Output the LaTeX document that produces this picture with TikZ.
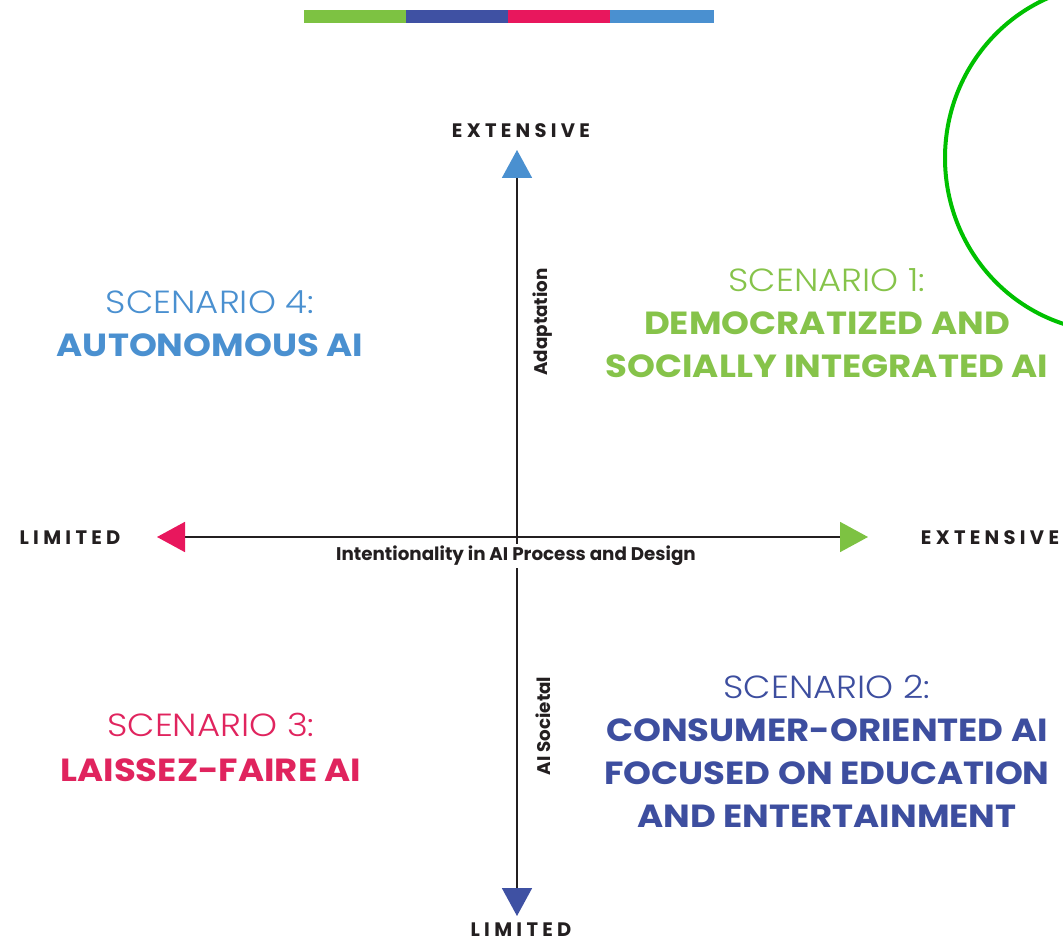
\documentclass[tikz,border=0pt]{standalone}
\usepackage{fontspec}
\setmainfont{Poppins}
\newfontfamily\plight{Poppins Light}[FakeStretch=1.11]
\newfontfamily\pwide{Poppins}[FakeStretch=1.11]
\usetikzlibrary{arrows.meta}
\definecolor{cgreen}{HTML}{7DC242}
\definecolor{cdblue}{HTML}{3F51A3}
\definecolor{cpink}{HTML}{E8175D}
\definecolor{clblue}{HTML}{4A90D0}
\definecolor{tgreen}{HTML}{86C34A}
\definecolor{tdblue}{HTML}{3D4E9F}
\definecolor{tpink}{HTML}{E0245E}
\definecolor{tlblue}{HTML}{4A90D0}
\definecolor{dark}{HTML}{231F20}
\definecolor{ellgreen}{HTML}{00C000}
\begin{document}
\begin{tikzpicture}[x=1pt,y=-1pt,
  axisline/.style={draw=dark,line width=1.8pt},
  endlab/.style={text=dark,font=\bfseries\fontsize{19.5}{19.5}\selectfont\addfontfeatures{LetterSpace=22},inner sep=0pt},
  axtitle/.style={text=dark,font=\bfseries\fontsize{18.3}{18.3}\selectfont,inner sep=2pt},
  sclight/.style={font=\plight\fontsize{32}{32}\selectfont,inner sep=0pt},
  scbold/.style={font=\pwide\bfseries\fontsize{32}{32}\selectfont,inner sep=0pt},
]
\useasboundingbox (0,0) rectangle (1063,944);
% top bar
\fill[cgreen] (304,10) rectangle (406,23);
\fill[cdblue] (406,10) rectangle (508,23);
\fill[cpink] (508,10) rectangle (610,23);
\fill[clblue] (610,10) rectangle (714,23);
% green ellipse
\begin{scope}
\clip (0,0) rectangle (1063,944);
\draw[ellgreen,line width=4pt] (1115,158) ellipse [x radius=170, y radius=174];
\end{scope}
% axes
\coordinate (T) at (517,150);
\coordinate (B) at (517,916);
\coordinate (L) at (157,537);
\coordinate (R) at (868,537);
\draw[axisline,{Triangle[length=28pt,width=30pt,color=clblue]}-{Triangle[length=28pt,width=30pt,color=cdblue]}] (T) -- (B);
\draw[axisline,{Triangle[length=28pt,width=30pt,color=cpink]}-{Triangle[length=28pt,width=30pt,color=cgreen]}] (L) -- (R);
% axis end labels
\node[endlab] (te) at (521,131) {EXTENSIVE};
\node[endlab] (bl) at (521,930) {LIMITED};
\node[endlab] (ll) at (70,538) {LIMITED};
\node[endlab] (re) at (990,538) {EXTENSIVE};
% axis titles
\node[axtitle,fill=white] (ht) at (516,556) {Intentionality in AI Process and Design};
\node[axtitle,rotate=90] (va) at (543,322) {Adaptation};
\node[axtitle,rotate=90] (vs) at (543,726) {AI Societal};
% scenario 4
\node[sclight,text=tlblue] (s4a) at (210,302) {SCENARIO 4:};
\node[scbold,text=tlblue] (s4b) at (210,345) {AUTONOMOUS AI};
% scenario 1
\node[sclight,text=tgreen] (s1a) at (827,280) {SCENARIO 1:};
\node[scbold,text=tgreen] (s1b) at (827,323) {DEMOCRATIZED AND};
\node[scbold,text=tgreen] (s1c) at (827,366) {SOCIALLY INTEGRATED AI};
% scenario 3
\node[sclight,text=tpink] (s3a) at (211,725) {SCENARIO 3:};
\node[scbold,text=tpink] (s3b) at (211,770) {LAISSEZ-FAIRE AI};
% scenario 2
\node[sclight,text=tdblue] (s2a) at (827,687) {SCENARIO 2:};
\node[scbold,text=tdblue] (s2b) at (827,730) {CONSUMER-ORIENTED AI};
\node[scbold,text=tdblue] (s2c) at (827,773) {FOCUSED ON EDUCATION};
\node[scbold,text=tdblue] (s2d) at (827,816) {AND ENTERTAINMENT};
\end{tikzpicture}
\end{document}
